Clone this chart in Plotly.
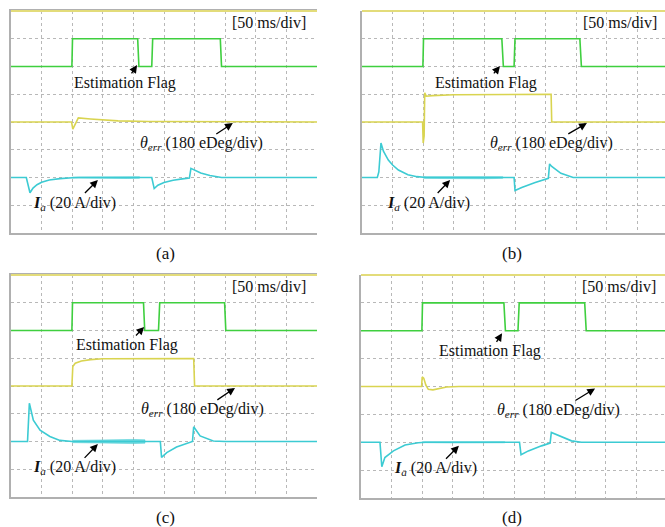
import plotly.graph_objects as go

W, H = 665, 527
FONT = "Liberation Serif"
GREEN = "#3fcf3f"
YELLOW = "#d9d450"
CYAN = "#3ccbd3"

PANELS = ["(a)", "(b)", "(c)", "(d)"]

# ---- Estimation flag (green) in divisions ----
FLAG_X_A = [0, 1.99, 2.01, 4.14, 4.18, 4.6, 4.63, 6.84, 6.88, 10]
FLAG_Y_A = [6, 6, 7, 7, 6, 6, 7, 7, 6, 6]
FLAG_X_B = [0, 1.99, 2.01, 4.57, 4.62, 4.97, 5.0, 7.12, 7.17, 10]
FLAG_Y_B = [6, 6, 7, 7, 6, 6, 7, 7, 6, 6]
FLAG_X_C = [0, 1.99, 2.01, 4.33, 4.37, 4.82, 4.86, 6.98, 7.02, 10]
FLAG_Y_C = [6, 6, 7, 7, 6, 6, 7, 7, 6, 6]
FLAG_X_D = [0, 1.99, 2.01, 4.67, 4.72, 5.13, 5.17, 7.31, 7.36, 10]
FLAG_Y_D = [6, 6, 7, 7, 6, 6, 7, 7, 6, 6]

# ---- theta_err (yellow) ----
TH_X_A = [0, 1.98, 2.02, 2.1, 2.2, 2.6, 3.0, 3.5, 4.5, 10]
TH_Y_A = [4, 4, 3.74, 3.9, 4.15, 4.11, 4.07, 4.04, 4.02, 4.0]
TH_X_B = [0, 1.98, 2.0, 2.03, 2.05, 2.1, 2.3, 3.0, 6.18, 6.2, 10]
TH_Y_B = [4, 4, 3.24, 3.5, 5.05, 4.93, 4.95, 4.98, 5.0, 4.0, 4.0]
TH_X_C = [0, 1.99, 2.02, 2.1, 2.3, 2.6, 3.0, 5.97, 6.0, 10]
TH_Y_C = [4, 4, 4.7, 4.82, 4.9, 4.95, 4.98, 4.99, 4.0, 4.0]
TH_X_D = [0, 1.98, 2.0, 2.05, 2.12, 2.2, 2.35, 2.55, 2.8, 3.2, 10]
TH_Y_D = [4, 4, 4.34, 4.3, 4.05, 3.9, 3.88, 3.93, 3.98, 4.0, 4.0]

# ---- I_a (cyan) ----
IA_X_A = [0, 0.5, 0.62, 0.72, 0.85, 1.0, 1.25, 1.6, 2.0, 2.2, 4.2, 4.6, 4.68, 4.8, 5.0, 5.3, 5.6,
          5.83, 5.88, 6.0, 6.2, 6.5, 6.88, 10]
IA_Y_A = [2, 2, 1.45, 1.62, 1.74, 1.83, 1.91, 1.96, 1.99, 2.0, 2.0, 2.0, 1.6, 1.72, 1.82, 1.9, 1.95,
          1.98, 2.33, 2.26, 2.16, 2.07, 2.0, 2.0]
IA_X_B = [0, 0.5, 0.55, 0.62, 0.7, 0.86, 1.0, 1.19, 1.5, 1.8, 2.1, 4.6, 4.97, 5.0, 5.22, 5.66,
          6.09, 6.13, 6.2, 6.5, 6.9, 10]
IA_Y_B = [2, 2, 2.2, 3.24, 2.95, 2.63, 2.45, 2.27, 2.1, 2.03, 2.0, 2.0, 2.0, 1.53, 1.64, 1.82,
          1.97, 2.49, 2.4, 2.15, 2.0, 2.0]
IA_X_C = [0, 0.54, 0.6, 0.73, 0.95, 1.27, 1.6, 2.0, 4.38, 4.88, 4.92, 5.09, 5.41, 5.85, 5.93,
          5.97, 6.18, 6.61, 7.0, 10]
IA_Y_C = [2, 2, 3.38, 2.77, 2.41, 2.18, 2.04, 2.0, 2.0, 2.0, 1.43, 1.6, 1.8, 1.96, 2.0, 2.53,
          2.2, 2.02, 2.0, 2.0]
IA_X_D = [0, 0.62, 0.68, 0.78, 1.06, 1.44, 1.87, 2.1, 4.7, 5.18, 5.23, 5.47, 5.9, 6.18, 6.22,
          6.56, 6.88, 7.2, 10]
IA_Y_D = [2, 2, 1.12, 1.45, 1.69, 1.9, 1.98, 2.0, 2.0, 2.0, 1.55, 1.69, 1.87, 1.97, 2.35,
          2.2, 2.05, 2.0, 2.0]

# ripple envelope (x, half-amplitude) on I_a while estimating
RIP_X_A = [2.0, 3.0, 3.8, 4.2]
RIP_H_A = [0.015, 0.025, 0.035, 0.025]
RIP_X_B = [2.0, 3.0, 4.0, 4.6]
RIP_H_B = [0.03, 0.04, 0.045, 0.03]
RIP_X_C = [2.0, 3.0, 4.0, 4.38]
RIP_H_C = [0.04, 0.06, 0.075, 0.06]
RIP_X_D = [2.0, 3.0, 4.0, 4.7]
RIP_H_D = [0.015, 0.025, 0.03, 0.02]

# panel rectangles in pixels: left, right, top, bottom
RECT = [(11, 317, 11, 233), (362, 668, 11, 233), (11, 317, 275, 497), (361, 667, 275, 498)]
CAP_X = [165, 512, 165, 512]
CAP_Y = [253, 253, 517, 517]

# label centres and arrow tips (divisions): (text_x, text_y, tip_x, tip_y)
FLAG_LBL = [(3.73, 5.41, 4.12, 6.05), (4.05, 5.41, 4.51, 6.02), (3.79, 5.48, 4.35, 6.13),
            (4.23, 5.26, 4.61, 5.91)]
TH_LBL = [(6.21, 3.21, 7.25, 3.96), (6.18, 3.21, 7.35, 3.96), (6.26, 3.14, 7.32, 3.93),
          (6.47, 3.14, 7.65, 3.93)]
IA_LBL = [(2.09, 1.08, 2.84, 1.91), (2.16, 1.08, 2.88, 1.91), (2.09, 1.05, 2.84, 1.91),
          (2.45, 1.05, 3.2, 1.87)]

FLAGS = [(FLAG_X_A, FLAG_Y_A), (FLAG_X_B, FLAG_Y_B), (FLAG_X_C, FLAG_Y_C), (FLAG_X_D, FLAG_Y_D)]
THS = [(TH_X_A, TH_Y_A), (TH_X_B, TH_Y_B), (TH_X_C, TH_Y_C), (TH_X_D, TH_Y_D)]
IAS = [(IA_X_A, IA_Y_A), (IA_X_B, IA_Y_B), (IA_X_C, IA_Y_C), (IA_X_D, IA_Y_D)]
RIPS = [(RIP_X_A, RIP_H_A), (RIP_X_B, RIP_H_B), (RIP_X_C, RIP_H_C), (RIP_X_D, RIP_H_D)]

fig = go.Figure()
annotations = []
shapes = []
PX = 30.6

for i in range(4):
    n = "" if i == 0 else str(i + 1)
    xa, ya = "x" + n, "y" + n
    l, r, t, b = RECT[i]
    r_clip = min(r, W)
    xmax = (r_clip - l) / PX
    fig.update_layout(**{
        "xaxis" + n: dict(domain=[l / W, r_clip / W], range=[0, xmax], anchor=ya,
                          dtick=1, tick0=0, showgrid=True, gridcolor="#b8b8b8", griddash="dot",
                          gridwidth=1, zeroline=False, showticklabels=False, ticks="",
                          showline=True, linecolor="#b0b0b0", linewidth=1.5,
                          mirror=(i in (0, 2))),
        "yaxis" + n: dict(domain=[1 - b / H, 1 - t / H], range=[0, 8], anchor=xa,
                          dtick=1, tick0=0, showgrid=True, gridcolor="#b8b8b8", griddash="dot",
                          gridwidth=1, zeroline=False, showticklabels=False, ticks="",
                          showline=True, linecolor="#b0b0b0", linewidth=1.5, mirror=False),
    })
    # top border (yellowish)
    shapes.append(dict(type="line", xref=xa + " domain", yref=ya + " domain", x0=0, x1=1,
                       y0=1, y1=1, line=dict(color="#e3dc7a", width=2)))
    # ripple band
    rx, rh = RIPS[i]
    fig.add_trace(go.Scatter(x=rx + rx[::-1], y=[2 + h for h in rh] + [2 - h for h in rh[::-1]],
                             fill="toself", fillcolor="rgba(60,203,211,0.75)",
                             line=dict(color="rgba(60,203,211,0.6)", width=0.8),
                             mode="lines", xaxis=xa, yaxis=ya, showlegend=False, hoverinfo="skip"))
    fig.add_trace(go.Scatter(x=IAS[i][0], y=IAS[i][1], mode="lines",
                             line=dict(color=CYAN, width=1.6), xaxis=xa, yaxis=ya, showlegend=False))
    fig.add_trace(go.Scatter(x=THS[i][0], y=THS[i][1], mode="lines",
                             line=dict(color=YELLOW, width=1.6), xaxis=xa, yaxis=ya, showlegend=False))
    fig.add_trace(go.Scatter(x=FLAGS[i][0], y=FLAGS[i][1], mode="lines",
                             line=dict(color=GREEN, width=1.6), xaxis=xa, yaxis=ya, showlegend=False))

    f = dict(family=FONT, size=16, color="#111")
    annotations.append(dict(text="[50 ms/div]", xref=xa, yref=ya, x=9.72, y=7.57,
                            xanchor="right", yanchor="middle", showarrow=False, font=f))
    labels = [("Estimation Flag", FLAG_LBL[i]),
              ("<i>θ</i><sub><i>err</i></sub> (180 eDeg/div)", TH_LBL[i]),
              ("<b><i>I</i></b><sub><i>a</i></sub> (20 A/div)", IA_LBL[i])]
    for txt, (tx, ty, hx, hy) in labels:
        annotations.append(dict(text=txt, xref=xa, yref=ya, x=hx, y=hy, axref=xa, ayref=ya,
                                ax=tx, ay=ty, showarrow=True, arrowhead=2, arrowsize=1.2,
                                arrowwidth=1.3, arrowcolor="#000", borderpad=0, font=f))
    annotations.append(dict(text=PANELS[i], xref="paper", yref="paper",
                            x=CAP_X[i] / W, y=1 - CAP_Y[i] / H, xanchor="center",
                            yanchor="middle", showarrow=False,
                            font=dict(family=FONT, size=17, color="#111")))

fig.update_layout(width=W, height=H, margin=dict(l=0, r=0, t=0, b=0),
                  paper_bgcolor="white", plot_bgcolor="white",
                  annotations=annotations, shapes=shapes)
fig.write_html("out.html", config={"displayModeBar": False},
               post_script="document.body.style.margin='0';document.body.style.overflow='hidden';")
